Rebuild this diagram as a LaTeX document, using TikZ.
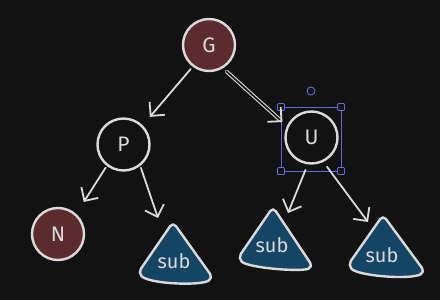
\documentclass[tikz,border=0pt]{standalone}
\usepackage{fontspec}
\setmainfont{Fira Sans}
\usetikzlibrary{arrows.meta,calc}
\definecolor{bg}{HTML}{121212}
\definecolor{ink}{HTML}{DADADA}
\definecolor{redfill}{HTML}{5C2B2D}
\definecolor{bluefill}{HTML}{154565}
\definecolor{sel}{HTML}{6965DB}
\tikzset{
  vtx/.style={circle,draw=ink,line width=2.4pt,minimum size=52pt,inner sep=0pt,
    font=\fontsize{21}{24}\selectfont,text=ink},
  redv/.style={vtx,fill=redfill},
  arr/.style={draw=ink,line width=1.8pt,line cap=round,
    -{Straight Barb[length=10pt,width=20pt,line width=1.8pt]}},
  subtri/.style={draw=ink,fill=bluefill,line width=2.4pt,rounded corners=5pt,line join=round},
  sublabel/.style={font=\fontsize{20}{24}\selectfont,text=ink,inner sep=0pt},
  handle/.style={draw=sel,fill=bg,line width=0.9pt,minimum size=7pt,inner sep=0pt,rectangle,rounded corners=1pt},
}
\begin{document}
\begin{tikzpicture}[x=1pt,y=-1pt]
\fill[bg] (0,0) rectangle (440,300);
\useasboundingbox (0,0) rectangle (440,300);

% sub triangles
\draw[subtri] (173,222) -- (138,273) .. controls (150,284) and (200,286) .. (213,278) -- cycle;
\draw[subtri] (273,207) -- (238,258) .. controls (248,268) and (300,272) .. (313,267) -- cycle;
\draw[subtri] (383,215) -- (348,265) .. controls (358,276) and (410,280) .. (425,272) -- cycle;
\node[sublabel] (s1) at (174,261) {sub};
\node[sublabel] (s2) at (272,245) {sub};
\node[sublabel] (s3) at (382,255) {sub};
\coordinate (s1in) at (158,218);
\coordinate (s2in) at (288,213);
\coordinate (s3in) at (368,222);

% vertices
\node[redv] (G) at (209,45) {G};
\node[vtx] (P) at (123.5,144.5) {P};
\node[vtx] (U) at (311.5,137.5) {U};
\node[redv] (N) at (58,234) {N};

% selection
\draw[sel,line width=0.9pt] (281,107) rectangle (341,171);
\node[handle] (h1) at (281,107) {};
\node[handle] (h2) at (341,107) {};
\node[handle] (h3) at (281,171) {};
\node[handle] (h4) at (341,171) {};
\node[draw=sel,fill=bg,circle,line width=0.9pt,minimum size=8pt,inner sep=0pt] (rot) at (311,91) {};

% edges
\draw[arr,shorten <=3pt,shorten >=11pt] (G.233) -- (P.45);
\draw[arr,double=bg,double distance=1.6pt,line width=1.1pt,shorten <=5pt,shorten >=6pt,
  -{Straight Barb[length=10pt,width=20pt,line width=1.8pt]}] (G.301) -- (U.155);
\draw[arr,shorten <=2pt,shorten >=14pt] (P.232) -- (N.48);
\draw[arr,shorten <=2pt] (P.308) -- (s1in);
\draw[arr,shorten <=6pt] (U.262) -- (s2in);
\draw[arr,shorten <=6pt] (U.296) -- (s3in);
\end{tikzpicture}
\end{document}
